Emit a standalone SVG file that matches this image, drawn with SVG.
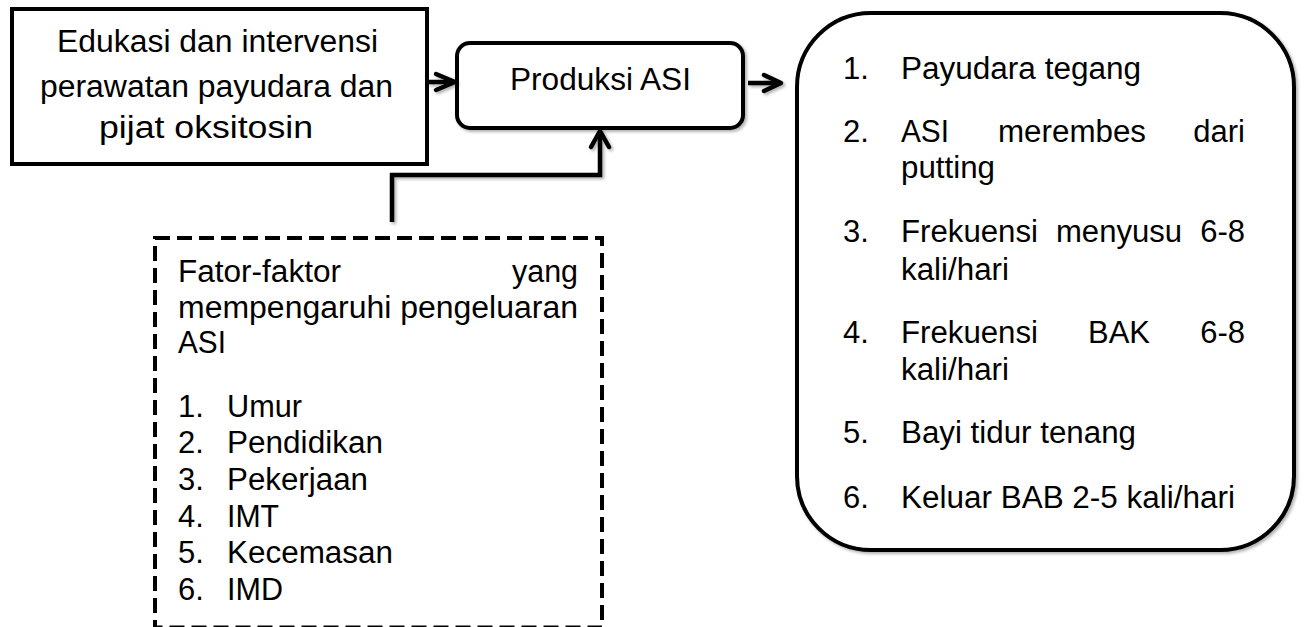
<svg xmlns="http://www.w3.org/2000/svg" width="1308" height="627" viewBox="0 0 1308 627" font-family="'Liberation Sans', Arial, sans-serif">
<style>
text{font-family:'Liberation Sans',Arial,sans-serif;font-size:31px;fill:#000}
.box{fill:#fff;stroke:#000;stroke-width:4}
.dash{fill:#fff;stroke:#000;stroke-width:4;stroke-dasharray:15 7}
.con{fill:none;stroke:#000;stroke-width:4.5;stroke-linejoin:miter}
.head{fill:none;stroke:#000;stroke-width:4.5;stroke-linecap:round;stroke-linejoin:round}
</style>
<defs>
<filter id="sh" x="-20%" y="-20%" width="140%" height="140%">
<feDropShadow dx="2" dy="2" stdDeviation="1.5" flood-color="#000" flood-opacity="0.3"/>
</filter>
</defs>
<rect width="1308" height="627" fill="#fff"/>

<g id="node-edukasi">
<rect class="box" x="12" y="9" width="415" height="155"/>
<text x="57" y="52" textLength="321" lengthAdjust="spacingAndGlyphs">Edukasi dan intervensi</text>
<text x="40" y="97" textLength="353" lengthAdjust="spacingAndGlyphs">perawatan payudara dan</text>
<text x="99" y="138" textLength="214" lengthAdjust="spacingAndGlyphs">pijat oksitosin</text>
</g>

<g id="node-produksi">
<rect class="box" x="457" y="43" width="286" height="85" rx="13" filter="url(#sh)"/>
<text x="510" y="90" textLength="181" lengthAdjust="spacingAndGlyphs">Produksi ASI</text>
</g>

<g id="node-faktor">
<rect class="dash" x="155" y="238" width="447" height="389.5"/>
<text x="178" y="282" textLength="163" lengthAdjust="spacingAndGlyphs">Fator-faktor</text>
<text x="512" y="282" textLength="66" lengthAdjust="spacingAndGlyphs">yang</text>
<text x="178" y="318" textLength="400" lengthAdjust="spacingAndGlyphs">mempengaruhi pengeluaran</text>
<text x="178" y="353" textLength="48" lengthAdjust="spacingAndGlyphs">ASI</text>
<text x="178" y="417">1.</text><text x="227" y="417" textLength="75" lengthAdjust="spacingAndGlyphs">Umur</text>
<text x="178" y="453">2.</text><text x="227" y="453" textLength="156" lengthAdjust="spacingAndGlyphs">Pendidikan</text>
<text x="178" y="490">3.</text><text x="227" y="490" textLength="141" lengthAdjust="spacingAndGlyphs">Pekerjaan</text>
<text x="178" y="527">4.</text><text x="227" y="527" textLength="52" lengthAdjust="spacingAndGlyphs">IMT</text>
<text x="178" y="563">5.</text><text x="227" y="563" textLength="166" lengthAdjust="spacingAndGlyphs">Kecemasan</text>
<text x="178" y="600">6.</text><text x="227" y="600" textLength="56" lengthAdjust="spacingAndGlyphs">IMD</text>
</g>

<g id="node-hasil">
<rect class="box" x="797" y="13" width="497" height="537" rx="74" filter="url(#sh)"/>
<text x="843" y="79">1.</text>
<text x="901" y="79" textLength="240" lengthAdjust="spacingAndGlyphs">Payudara tegang</text>
<text x="843" y="142">2.</text>
<text x="901" y="142" textLength="48" lengthAdjust="spacingAndGlyphs">ASI</text>
<text x="998" y="142" textLength="148" lengthAdjust="spacingAndGlyphs">merembes</text>
<text x="1245" y="142" text-anchor="end">dari</text>
<text x="901" y="178" textLength="94" lengthAdjust="spacingAndGlyphs">putting</text>
<text x="843" y="242">3.</text>
<text x="901" y="242" textLength="137" lengthAdjust="spacingAndGlyphs">Frekuensi</text>
<text x="1056" y="242" textLength="126" lengthAdjust="spacingAndGlyphs">menyusu</text>
<text x="1245" y="242" text-anchor="end">6-8</text>
<text x="901" y="280" textLength="108" lengthAdjust="spacingAndGlyphs">kali/hari</text>
<text x="843" y="343">4.</text>
<text x="901" y="343" textLength="137" lengthAdjust="spacingAndGlyphs">Frekuensi</text>
<text x="1088" y="343" textLength="62" lengthAdjust="spacingAndGlyphs">BAK</text>
<text x="1245" y="343" text-anchor="end">6-8</text>
<text x="901" y="380" textLength="108" lengthAdjust="spacingAndGlyphs">kali/hari</text>
<text x="843" y="443">5.</text>
<text x="901" y="443" textLength="235" lengthAdjust="spacingAndGlyphs">Bayi tidur tenang</text>
<text x="843" y="508">6.</text>
<text x="901" y="508" textLength="334" lengthAdjust="spacingAndGlyphs">Keluar BAB 2-5 kali/hari</text>
</g>

<g id="connectors" filter="url(#sh)">
<path class="con" d="M428 82 H453"/>
<path class="head" d="M436 74 L455 82 L436 90"/>
<path class="con" d="M748 83 H779"/>
<path class="head" d="M764 75 L781 83 L764 91"/>
<path class="con" d="M392 222 V175 H600 V134"/>
<path class="head" d="M591 147 L600 131 L609 147"/>
</g>
</svg>
